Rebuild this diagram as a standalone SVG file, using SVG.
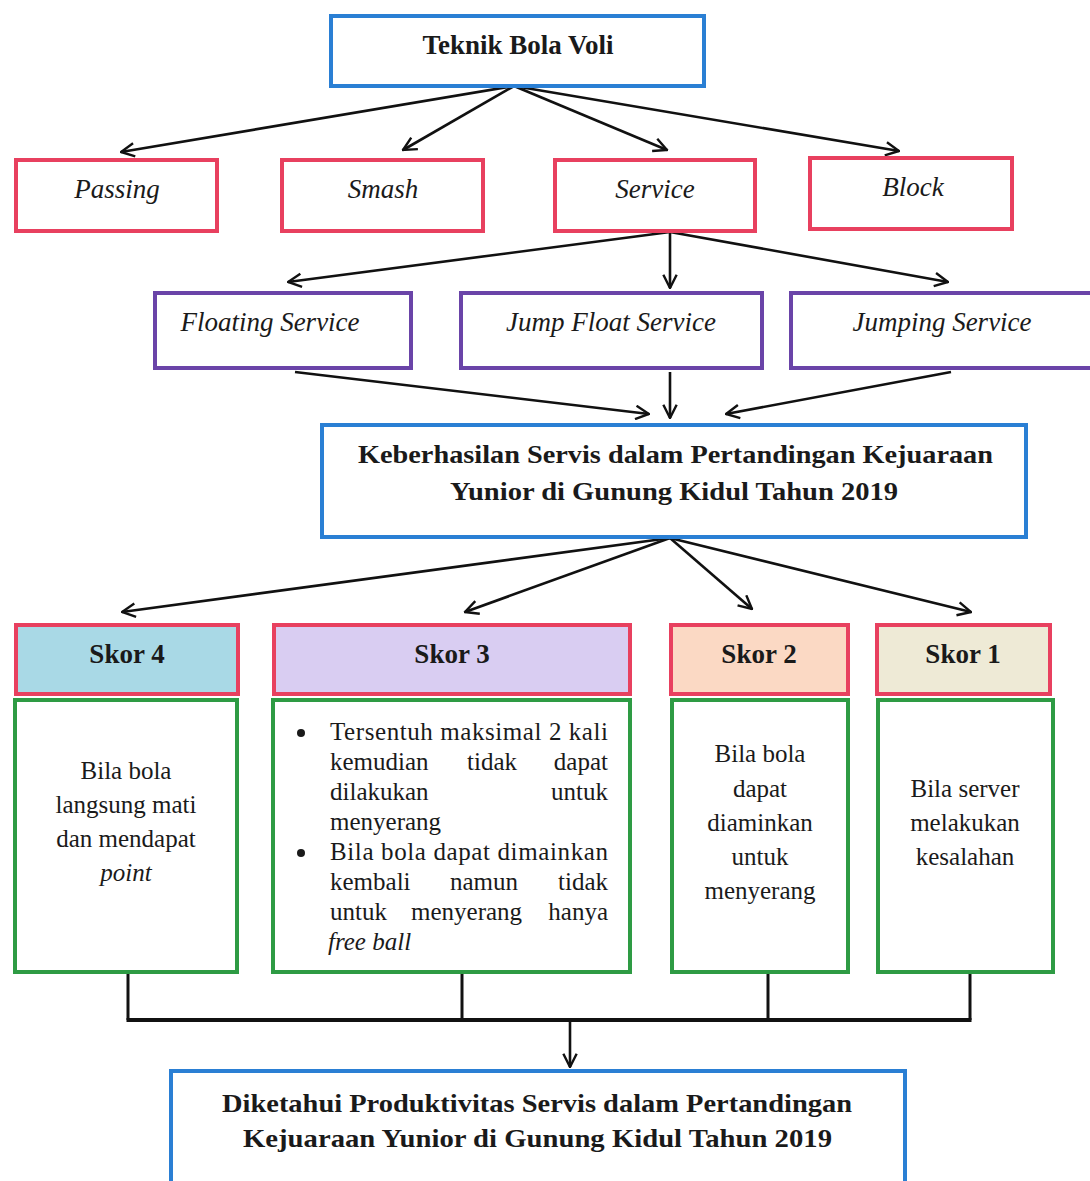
<svg xmlns="http://www.w3.org/2000/svg" width="1090" height="1181" viewBox="0 0 1090 1181">
<style>
.bx{fill:#fff;stroke-width:4}
.blue{stroke:#2a7fd4}
.pink{stroke:#e8405f}
.purple{stroke:#6a44a8}
.green{stroke:#2e9b44;fill:#fff;stroke-width:4}
.t{font-family:"Liberation Serif","Times New Roman",serif;fill:#1a1a1a}
.b{font-weight:bold}
.i{font-style:italic}
.c{text-anchor:middle}
.e{text-anchor:end}
.s27{font-size:27px}
.s26{font-size:26px}
.s25{font-size:25px}
.ln{stroke:#111;stroke-width:2.6;fill:none}
</style>
<defs>
<marker id="ah" viewBox="0 0 12 12" refX="11" refY="6" markerWidth="16" markerHeight="16" markerUnits="userSpaceOnUse" orient="auto">
<path d="M1,1 L11,6 L1,11" fill="none" stroke="#111" stroke-width="1.8"/>
</marker>
</defs>
<rect width="1090" height="1181" fill="#fff"/>

<g id="connectors">
<line class="ln" x1="514" y1="86" x2="121" y2="152" marker-end="url(#ah)"/>
<line class="ln" x1="514" y1="86" x2="403" y2="150" marker-end="url(#ah)"/>
<line class="ln" x1="514" y1="86" x2="667" y2="150" marker-end="url(#ah)"/>
<line class="ln" x1="514" y1="86" x2="899" y2="151" marker-end="url(#ah)"/>
<line class="ln" x1="670" y1="232" x2="288" y2="282" marker-end="url(#ah)"/>
<line class="ln" x1="670" y1="232" x2="670" y2="288" marker-end="url(#ah)"/>
<line class="ln" x1="670" y1="232" x2="948" y2="282" marker-end="url(#ah)"/>
<line class="ln" x1="295" y1="372" x2="649" y2="414" marker-end="url(#ah)"/>
<line class="ln" x1="670" y1="372" x2="670" y2="418" marker-end="url(#ah)"/>
<line class="ln" x1="951" y1="372" x2="726" y2="414" marker-end="url(#ah)"/>
<line class="ln" x1="670" y1="538" x2="122" y2="612" marker-end="url(#ah)"/>
<line class="ln" x1="670" y1="538" x2="465" y2="612" marker-end="url(#ah)"/>
<line class="ln" x1="670" y1="538" x2="752" y2="609" marker-end="url(#ah)"/>
<line class="ln" x1="670" y1="538" x2="971" y2="612" marker-end="url(#ah)"/>
<g stroke="#111" stroke-width="3" fill="none">
<line x1="128" y1="974" x2="128" y2="1020"/>
<line x1="462" y1="974" x2="462" y2="1020"/>
<line x1="768" y1="974" x2="768" y2="1020"/>
<line x1="970" y1="974" x2="970" y2="1020"/>
<line x1="126.5" y1="1020" x2="971.5" y2="1020" stroke-width="4"/>
</g>
<line class="ln" x1="570" y1="1020" x2="570" y2="1067" marker-end="url(#ah)"/>
</g>

<g id="teknik">
<rect class="bx blue" x="331" y="16" width="373" height="70"/>
<text class="t b c s27" x="518" y="54">Teknik Bola Voli</text>
</g>
<g id="passing">
<rect class="bx pink" x="16" y="160" width="201" height="71"/>
<text class="t i c s27" x="117" y="198">Passing</text>
</g>
<g id="smash">
<rect class="bx pink" x="282" y="160" width="201" height="71"/>
<text class="t i c s27" x="383" y="198">Smash</text>
</g>
<g id="service">
<rect class="bx pink" x="555" y="160" width="200" height="71"/>
<text class="t i c s27" x="655" y="198">Service</text>
</g>
<g id="block">
<rect class="bx pink" x="810" y="158" width="202" height="71"/>
<text class="t i c s27" x="913" y="196">Block</text>
</g>

<g id="floating">
<rect class="bx purple" x="155" y="293" width="256" height="75"/>
<text class="t i c s27" x="270" y="331">Floating Service</text>
</g>
<g id="jumpfloat">
<rect class="bx purple" x="461" y="293" width="301" height="75"/>
<text class="t i c s27" x="611" y="331">Jump Float Service</text>
</g>
<g id="jumping">
<rect class="bx purple" x="791" y="293" width="305" height="75"/>
<text class="t i c s27" x="942" y="331">Jumping Service</text>
</g>

<g id="keberhasilan">
<rect class="bx blue" x="322" y="425" width="704" height="112"/>
<text class="t b c s26" x="675.5" y="463" textLength="635" lengthAdjust="spacingAndGlyphs">Keberhasilan Servis dalam Pertandingan Kejuaraan</text>
<text class="t b c s26" x="674" y="500" textLength="448" lengthAdjust="spacingAndGlyphs">Yunior di Gunung Kidul Tahun 2019</text>
</g>

<g id="skor4">
<rect x="16" y="625" width="222" height="69" fill="#a9d9e6" stroke="#e8405f" stroke-width="4"/>
<text class="t b c s27" x="127" y="663">Skor 4</text>
</g>
<g id="skor3">
<rect x="274" y="625" width="356" height="69" fill="#d9cdf2" stroke="#e8405f" stroke-width="4"/>
<text class="t b c s27" x="452" y="663">Skor 3</text>
</g>
<g id="skor2">
<rect x="671" y="625" width="177" height="69" fill="#fbd9c4" stroke="#e8405f" stroke-width="4"/>
<text class="t b c s27" x="759" y="663">Skor 2</text>
</g>
<g id="skor1">
<rect x="877" y="625" width="173" height="69" fill="#eeead6" stroke="#e8405f" stroke-width="4"/>
<text class="t b c s27" x="963" y="663">Skor 1</text>
</g>

<g id="desc4">
<rect class="green" x="15" y="700" width="222" height="272"/>
<text class="t c s25" x="126" y="779">Bila bola</text>
<text class="t c s25" x="126" y="813">langsung mati</text>
<text class="t c s25" x="126" y="847">dan mendapat</text>
<text class="t i c s25" x="126" y="881">point</text>
</g>
<g id="desc3">
<rect class="green" x="273" y="700" width="357" height="272"/>
<circle cx="301" cy="733" r="4" fill="#1a1a1a"/>
<circle cx="301" cy="853" r="4" fill="#1a1a1a"/>
<text class="t s25" x="330" y="740" textLength="278" lengthAdjust="spacing">Tersentuh maksimal 2 kali</text>
<text class="t s25" x="330" y="770">kemudian</text>
<text class="t s25" x="467" y="770">tidak</text>
<text class="t e s25" x="608" y="770">dapat</text>
<text class="t s25" x="330" y="800">dilakukan</text>
<text class="t e s25" x="608" y="800">untuk</text>
<text class="t s25" x="330" y="830">menyerang</text>
<text class="t s25" x="330" y="860" textLength="278" lengthAdjust="spacing">Bila bola dapat dimainkan</text>
<text class="t s25" x="330" y="890">kembali</text>
<text class="t s25" x="450" y="890">namun</text>
<text class="t e s25" x="608" y="890">tidak</text>
<text class="t s25" x="330" y="920">untuk</text>
<text class="t s25" x="411" y="920">menyerang</text>
<text class="t e s25" x="608" y="920">hanya</text>
<text class="t i s25" x="328" y="950">free ball</text>
</g>
<g id="desc2">
<rect class="green" x="672" y="700" width="176" height="272"/>
<text class="t c s25" x="760" y="762">Bila bola</text>
<text class="t c s25" x="760" y="797">dapat</text>
<text class="t c s25" x="760" y="831">diaminkan</text>
<text class="t c s25" x="760" y="865">untuk</text>
<text class="t c s25" x="760" y="899">menyerang</text>
</g>
<g id="desc1">
<rect class="green" x="878" y="700" width="175" height="272"/>
<text class="t c s25" x="965" y="797">Bila server</text>
<text class="t c s25" x="965" y="831">melakukan</text>
<text class="t c s25" x="965" y="865">kesalahan</text>
</g>

<g id="diketahui">
<rect class="bx blue" x="171" y="1071" width="734" height="116"/>
<text class="t b c s26" x="537" y="1112" textLength="630" lengthAdjust="spacingAndGlyphs">Diketahui Produktivitas Servis dalam Pertandingan</text>
<text class="t b c s26" x="537.5" y="1147" textLength="589" lengthAdjust="spacingAndGlyphs">Kejuaraan Yunior di Gunung Kidul Tahun 2019</text>
</g>
</svg>
